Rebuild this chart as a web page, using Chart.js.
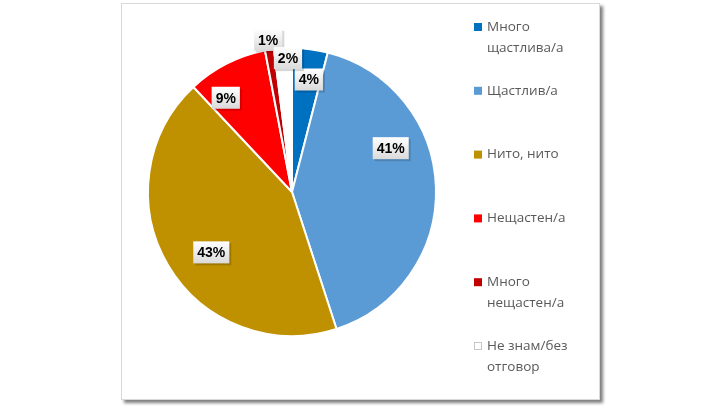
<!DOCTYPE html>
<html>
<head>
<meta charset="utf-8">
<script src="https://cdn.jsdelivr.net/npm/chart.js@4/dist/chart.umd.min.js"></script>
<style>
  html, body { margin: 0; padding: 0; background: #fff; }
  #box {
    position: absolute; left: 121px; top: 3px;
    width: 477px; height: 395px;
    border: 1px solid #d9d9d9;
    box-shadow: 3px 3px 3px #7f7f7f;
    background: #fff;
  }
  canvas { display: block; }
</style>
</head>
<body>
<div id="box"><canvas id="myChart" width="477" height="395"></canvas></div>
<script>
// Data
const categories = [['Много', 'щастлива/а'], ['Щастлив/а'], ['Нито, нито'], ['Нещастен/а'], ['Много', 'нещастен/а'], ['Не знам/без', 'отговор']];
const shares = [4, 41, 43, 9, 1, 2];
const colors = ['#0070C0', '#5B9BD5', '#BF9000', '#FF0000', '#C00000', '#FFFFFF'];

// where each label box sits: fraction along the slice, fraction of the radius
const labelAlong = [0.59, 0.35, 0.46, 0.25, 0.53, 0.76];
const labelRadius = [0.79, 0.75, 0.70, 0.80, 1.07, 0.93];

const pieLabels = {
    id: 'pieLabels',
    afterDatasetsDraw(chart) {
        const ctx = chart.ctx;
        const meta = chart.getDatasetMeta(0);
        ctx.save();
        ctx.font = 'bold 14px "Liberation Sans", Arial, sans-serif';
        ctx.textAlign = 'center';
        ctx.textBaseline = 'middle';
        meta.data.forEach(function (arc, i) {
            const p = arc.getProps(['x', 'y', 'startAngle', 'endAngle', 'outerRadius']);
            const a = p.startAngle + (p.endAngle - p.startAngle) * labelAlong[i];
            const r = p.outerRadius * labelRadius[i];
            const x = p.x + Math.cos(a) * r;
            const y = p.y + Math.sin(a) * r;
            const text = shares[i] + '%';
            const w = ctx.measureText(text).width + 8;
            const h = 22;
            // shadow
            ctx.fillStyle = 'rgba(0,0,0,0.16)';
            ctx.fillRect(x - w / 2 + 2, y - h / 2 + 2, w, h);
            const g = ctx.createLinearGradient(0, y - h / 2, 0, y + h / 2);
            g.addColorStop(0, '#ffffff');
            g.addColorStop(1, '#dadada');
            ctx.fillStyle = g;
            ctx.fillRect(x - w / 2, y - h / 2, w, h);
            ctx.fillStyle = '#000';
            ctx.fillText(text, x, y + 1);
        });
        ctx.restore();
    }
};

const sideLegend = {
    id: 'sideLegend',
    afterDraw(chart) {
        const ctx = chart.ctx;
        ctx.save();
        ctx.font = '13.5px "Open Sans", "Noto Sans", sans-serif';
        ctx.textBaseline = 'middle';
        ctx.textAlign = 'left';
        categories.forEach(function (lines, i) {
            const top = 23 + i * 63.8;
            ctx.fillStyle = colors[i];
            ctx.fillRect(352, top - 4, 8, 8);
            if (colors[i] === '#FFFFFF') {
                ctx.strokeStyle = '#c8c8c8';
                ctx.lineWidth = 1;
                ctx.strokeRect(352.5, top - 3.5, 7, 7);
            }
            ctx.fillStyle = '#595959';
            lines.forEach(function (line, j) {
                ctx.fillText(line, 365, top + j * 21);
            });
        });
        ctx.restore();
    }
};

const data = {
    labels: categories.map(function (l) { return l.join(' '); }),
    datasets: [{
        data: shares,
        backgroundColor: colors,
        borderColor: '#ffffff',
        borderWidth: 2,
    }],
};

const config = {
    type: 'pie',
    data: data,
    options: {
        responsive: false,
        animation: false,
        layout: { padding: { left: 25, right: 162, top: 43, bottom: 62 } },
        plugins: {
            legend: { display: false },
            tooltip: { enabled: false },
        },
    },
    plugins: [pieLabels, sideLegend],
};

const ctx = document.getElementById('myChart').getContext('2d');
const myChart = new Chart(ctx, config);
</script>
</body>
</html>
